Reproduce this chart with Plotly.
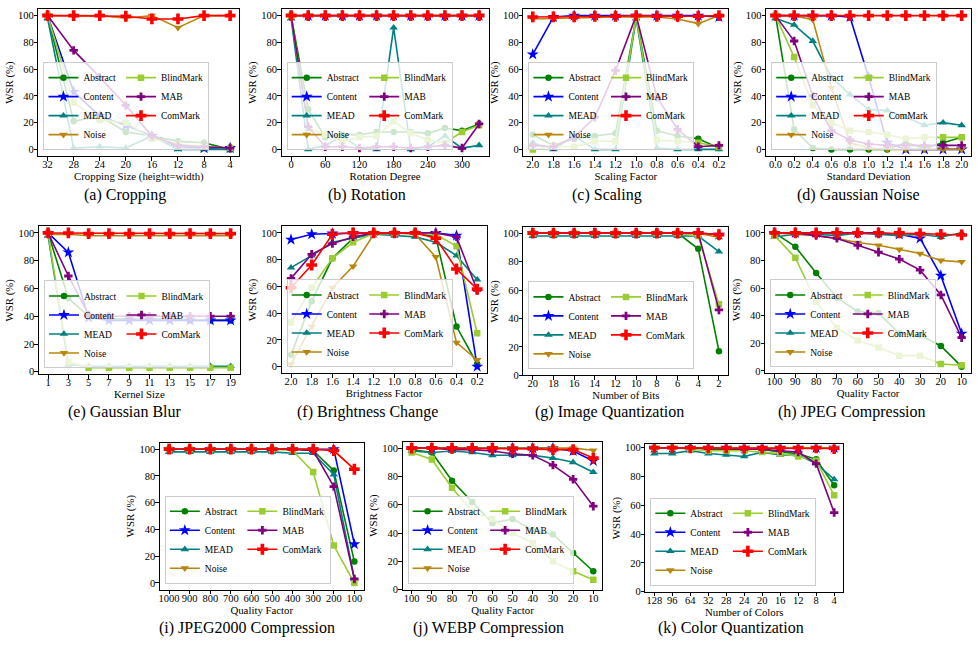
import plotly.graph_objects as go

W, H = 977, 650
FONT = "Liberation Serif"

# ---------------- data ----------------
series_names = ["Abstract", "Content", "MEAD", "Noise", "BlindMark", "MAB", "ComMark"]

crop_x = ["32", "28", "24", "20", "16", "12", "8", "4"]
crop_abstract = [100, 21, 25, 13, 10, 6, 5, 0]
crop_content = [100, 43, 25, 18, 10, 2, 1, 1]
crop_mead = [98, 1, 2, 1, 10, 0, 0, 0]
crop_noise = [100, 100, 100, 98, 100, 91, 100, 100]
crop_blind = [100, 35, 22, 20, 8, 4, 2, 1]
crop_mab = [100, 74, 54, 33, 10, 3, 2, 1]
crop_commark = [100, 100, 100, 99.5, 97.5, 97.5, 100, 100]

rot_x = [0, 30, 60, 90, 120, 150, 180, 210, 240, 270, 300, 330]
rot_abstract = [100, 30, 9, 11, 11, 13, 13, 13, 12, 16, 14, 19]
rot_content = [100, 100, 100, 100, 100, 100, 100, 100, 100, 100, 100, 100]
rot_mead = [98, 0, 3, 10, 1, 0, 91, 0, 2, 10, 1, 3]
rot_noise = [100, 100, 100, 100, 100, 100, 100, 100, 100, 100, 100, 100]
rot_blind = [100, 16, 11, 6, 9, 10, 21, 12, 7, 5, 13, 18]
rot_mab = [100, 17, 2, 2, 1, 2, 2, 1, 2, 3, 1, 19]
rot_commark = [100, 100, 100, 100, 100, 100, 100, 100, 100, 100, 100, 100]

scale_x = ["2.0", "1.8", "1.6", "1.4", "1.2", "1.0", "0.8", "0.6", "0.4", "0.2"]
scale_abstract = [11, 3, 8, 10, 12, 99, 14, 10, 8, 1]
scale_content = [71, 99, 100, 100, 100, 100, 100, 100, 100, 99]
scale_mead = [5, 0, 10, 0, 0, 98, 1, 0, 0, 0]
scale_noise = [97.5, 98, 98, 99, 99, 99, 99, 97.5, 94, 100]
scale_blind = [0, 2, 2, 6, 6, 99, 7, 6, 5, 2]
scale_mab = [3, 2, 9, 24, 59, 100, 39, 15, 2, 3]
scale_commark = [99, 99, 99, 99.5, 99.5, 100, 99.5, 99.5, 99.5, 100]

gn_x = ["0.0", "0.2", "0.4", "0.6", "0.8", "1.0", "1.2", "1.4", "1.6", "1.8", "2.0"]
gn_abstract = [100, 15, 1, 0, 0, 0, 0, 5, 1, 5, 9]
gn_content = [100, 100, 100, 100, 99, 54, 5, 0, 0, 0, 0]
gn_mead = [98, 93, 81, 54, 41, 30, 29, 24, 18, 20, 18]
gn_noise = [100, 100, 97, 46, 5, 1, 0, 0, 0, 0, 0]
gn_blind = [100, 69, 33, 20, 14, 13, 11, 8, 9, 9, 9]
gn_mab = [100, 81, 40, 14, 7, 4, 3, 3, 3, 3, 3]
gn_commark = [100, 100, 100, 100, 100, 100, 100, 100, 100, 100, 100]

blur_x = ["1", "3", "5", "7", "9", "11", "13", "15", "17", "19"]
blur_abstract = [100, 53, 40, 38, 38, 38, 38, 37, 37, 37]
blur_content = [100, 86, 39, 37, 37, 37, 37, 37, 37, 37]
blur_mead = [98, 5, 4, 4, 4, 4, 4, 4, 4, 4]
blur_noise = [99, 99, 98, 98, 98, 98, 98, 98, 98, 98]
blur_blind = [100, 7, 3, 3, 3, 3, 3, 3, 3, 3]
blur_mab = [100, 69, 41, 40, 40, 40, 40, 40, 40, 40]
blur_commark = [100, 100, 99.5, 99.5, 99.5, 99.5, 99.5, 99.5, 99.5, 99.5]

br_x = ["2.0", "1.8", "1.6", "1.4", "1.2", "1.0", "0.8", "0.6", "0.4", "0.2"]
br_abstract = [9, 49, 81, 96, 100, 100, 100, 97, 30, 2]
br_content = [95, 99, 99.5, 100, 100, 100, 100, 100, 98, 0]
br_mead = [74, 83, 93, 96, 99, 98, 97, 93, 83, 65]
br_noise = [2, 30, 59, 75, 99, 100, 99, 82, 18, 5]
br_blind = [33, 59, 81, 93, 99.5, 100, 100, 99, 90, 25]
br_mab = [66, 84, 92, 97, 100, 100, 100, 100, 97, 57]
br_commark = [59, 76, 99, 100, 100, 100, 100, 96, 73, 58]

iq_x = ["20", "18", "16", "14", "12", "10", "8", "6", "4", "2"]
iq_abstract = [100, 100, 100, 100, 100, 100, 100, 100, 89, 17]
iq_content = [100, 100, 100, 100, 100, 100, 100, 100, 100, 99]
iq_mead = [98, 98, 98, 98, 98, 98, 98, 98, 98, 87]
iq_noise = [100, 100, 100, 100, 100, 100, 100, 100, 100, 97]
iq_blind = [100, 100, 100, 100, 100, 100, 100, 100, 98, 50]
iq_mab = [100, 100, 100, 100, 100, 100, 100, 100, 100, 46]
iq_commark = [100, 100, 100, 100, 100, 100, 100, 100, 100, 99]

jpeg_x = ["100", "90", "80", "70", "60", "50", "40", "30", "20", "10"]
jpeg_abstract = [100, 90, 71, 53, 43, 42, 27, 26, 18, 3]
jpeg_content = [100, 100, 100, 100, 100, 100, 99, 96, 69, 27]
jpeg_mead = [97, 99, 99, 98, 100, 99, 98, 99, 97, 100]
jpeg_noise = [100, 99, 98, 96, 93, 91, 88, 85, 80, 79]
jpeg_blind = [98, 82, 50, 31, 22, 17, 11, 11, 5, 4]
jpeg_mab = [100, 100, 98, 96, 91, 86, 81, 73, 55, 24]
jpeg_commark = [100, 100, 100, 100, 100, 100, 100, 99.5, 99, 98.5]

j2k_x = ["1000", "900", "800", "700", "600", "500", "400", "300", "200", "100"]
j2k_abstract = [100, 100, 100, 100, 100, 100, 100, 99, 84, 16]
j2k_content = [100, 100, 100, 100, 100, 100, 100, 100, 100, 29]
j2k_mead = [98, 98, 98, 98, 98, 98, 97, 97, 81, 3]
j2k_noise = [100, 100, 100, 100, 100, 100, 100, 100, 99, 85]
j2k_blind = [100, 100, 100, 100, 100, 100, 99, 83, 28, 0]
j2k_mab = [100, 100, 100, 100, 100, 100, 100, 99, 72, 3]
j2k_commark = [100, 100, 100, 100, 100, 100, 100, 100, 99, 85]

webp_x = ["100", "90", "80", "70", "60", "50", "40", "30", "20", "10"]
webp_abstract = [99, 97, 77, 62, 47, 50, 42, 39, 26, 13]
webp_content = [100, 100, 100, 100, 100, 100, 100, 100, 98, 91]
webp_mead = [98, 97, 98, 97, 95, 95, 95, 93, 90, 83]
webp_noise = [100, 100, 100, 100, 100, 100, 100, 100, 100, 98.5]
webp_blind = [97, 92, 72, 55, 50, 40, 33, 20, 13, 7]
webp_mab = [100, 100, 99, 99, 98, 96, 95, 88, 78, 59]
webp_commark = [100, 100, 100, 100, 100, 99.5, 99.5, 99, 99, 93]

cq_x = ["128", "96", "64", "32", "28", "24", "20", "16", "12", "8", "4"]
cq_abstract = [100, 100, 100, 99, 99, 99, 99, 97, 96, 92, 74]
cq_content = [100, 100, 100, 100, 100, 100, 100, 100, 100, 100, 100]
cq_mead = [96, 96, 98, 96, 95, 94, 97, 95, 95, 89, 78]
cq_noise = [100, 100, 100, 100, 100, 100, 100, 100, 100, 100, 100]
cq_blind = [100, 100, 99, 98, 98, 98, 97, 96, 94, 91, 67]
cq_mab = [100, 100, 100, 99.5, 99.5, 99, 99, 98, 97, 89, 55]
cq_commark = [100, 100, 100, 100, 100, 100, 100, 100, 100, 100, 99.5]

captions = ["(a) Cropping", "(b) Rotation", "(c) Scaling", "(d) Gaussian Noise",
            "(e) Gaussian Blur", "(f) Brightness Change", "(g) Image Quantization",
            "(h) JPEG Compression", "(i) JPEG2000 Compression", "(j) WEBP Compression",
            "(k) Color Quantization"]
xtitles = ["Cropping Size (height=width)", "Rotation Degree", "Scaling Factor",
           "Standard Deviation", "Kernel Size", "Brightness Factor", "Number of Bits",
           "Quality Factor", "Quality Factor", "Quality Factor", "Number of Colors"]

panels = [
    (crop_x, [crop_abstract, crop_content, crop_mead, crop_noise, crop_blind, crop_mab, crop_commark]),
    (rot_x, [rot_abstract, rot_content, rot_mead, rot_noise, rot_blind, rot_mab, rot_commark]),
    (scale_x, [scale_abstract, scale_content, scale_mead, scale_noise, scale_blind, scale_mab, scale_commark]),
    (gn_x, [gn_abstract, gn_content, gn_mead, gn_noise, gn_blind, gn_mab, gn_commark]),
    (blur_x, [blur_abstract, blur_content, blur_mead, blur_noise, blur_blind, blur_mab, blur_commark]),
    (br_x, [br_abstract, br_content, br_mead, br_noise, br_blind, br_mab, br_commark]),
    (iq_x, [iq_abstract, iq_content, iq_mead, iq_noise, iq_blind, iq_mab, iq_commark]),
    (jpeg_x, [jpeg_abstract, jpeg_content, jpeg_mead, jpeg_noise, jpeg_blind, jpeg_mab, jpeg_commark]),
    (j2k_x, [j2k_abstract, j2k_content, j2k_mead, j2k_noise, j2k_blind, j2k_mab, j2k_commark]),
    (webp_x, [webp_abstract, webp_content, webp_mead, webp_noise, webp_blind, webp_mab, webp_commark]),
    (cq_x, [cq_abstract, cq_content, cq_mead, cq_noise, cq_blind, cq_mab, cq_commark]),
]

# ---------------- styles / layout ----------------
colors = {"Abstract": "#008000", "Content": "#0000ff", "MEAD": "#008080", "Noise": "#b8860b",
          "BlindMark": "#9acd32", "MAB": "#800080", "ComMark": "#ff0000"}
symbols = {"Abstract": "circle", "Content": "star", "MEAD": "triangle-up", "Noise": "triangle-down",
           "BlindMark": "square", "MAB": "cross", "ComMark": "cross"}
msizes = {"Abstract": 6.5, "Content": 9, "MEAD": 7.5, "Noise": 7.5,
          "BlindMark": 6.5, "MAB": 7, "ComMark": 9}
col_group = {"Abstract": "a", "Content": "a", "MEAD": "a", "Noise": "a",
             "BlindMark": "b", "MAB": "b", "ComMark": "b"}

# plot boxes in pixels: left, right, top, bottom
boxes = [
    (37.5, 238.5, 7, 156), (281, 488, 7, 156), (523, 728, 7, 156), (766, 971, 7, 156),
    (38, 239, 227, 377), (281, 486, 227, 376), (523, 728, 228, 378), (765, 971, 227, 376),
    (159, 363, 446, 595), (402, 602, 445, 595), (645, 843, 448, 597),
]
yranges = [[-5, 105], [-5, 105], [-5, 105], [-5, 105], [-1.85, 104.85], [-5, 105],
           [0, 104.2], [-1.85, 104.85], [-5, 105], [0, 104.7], [0, 102.3]]
cap_x = [124, 366, 607, 858, 124, 367, 609, 852, 246, 488, 731]
cap_y = [195, 195, 195, 195, 415, 415, 415, 415, 634, 634, 634]

fig = go.Figure()
layout = dict(width=W, height=H, margin=dict(l=0, r=0, t=0, b=0),
              paper_bgcolor="white", plot_bgcolor="white",
              font=dict(family=FONT, size=10, color="black"), showlegend=True)
annotations = []

for i, ((xcats, ys), (l, r, t, b)) in enumerate(zip(panels, boxes)):
    k = "" if i == 0 else str(i + 1)
    n = len(xcats)
    numeric = isinstance(xcats[0], (int, float))
    if numeric:
        xs = xcats
        span = xcats[-1] - xcats[0]
        xr = [xcats[0] - 0.05 * span, xcats[-1] + 0.05 * span]
        tv = [v for v in xcats if v % 60 == 0]
        tt = [str(v) for v in tv]
    else:
        xs = list(range(n))
        xr = [-0.05 * (n - 1), (n - 1) * 1.05]
        tv = xs
        tt = xcats
    lg = "legend" + k
    for name, yv in zip(series_names, ys):
        fig.add_trace(go.Scatter(
            x=xs, y=yv, name=name, mode="lines+markers",
            line=dict(color=colors[name], width=1.6),
            marker=dict(symbol=symbols[name], size=msizes[name], color=colors[name],
                        line=dict(width=0)),
            xaxis="x" + k, yaxis="y" + k, legend=lg,
            legendgroup=f"p{i}{col_group[name]}",
        ))
    axcommon = dict(showline=True, linecolor="black", linewidth=1, mirror=True,
                    ticks="outside", ticklen=3.5, tickwidth=1, tickcolor="black",
                    showgrid=False, zeroline=False,
                    tickfont=dict(family=FONT, size=10.5, color="black"))
    layout["xaxis" + k] = dict(axcommon, domain=[l / W, r / W], anchor="y" + k,
                               range=xr, tickmode="array", tickvals=tv, ticktext=tt,
                               ticklabelstandoff=-5,
                               title=dict(text=xtitles[i], font=dict(family=FONT, size=10.8),
                                          standoff=0))
    layout["yaxis" + k] = dict(axcommon, domain=[1 - b / H, 1 - t / H], anchor="x" + k,
                               range=yranges[i], tickmode="array",
                               tickvals=[0, 20, 40, 60, 80, 100],
                               ticklabelstandoff=-2,
                               title=dict(text="WSR (%)", font=dict(family=FONT, size=10.8),
                                          standoff=2))
    layout[lg] = dict(x=(l + 5) / W, y=1 - (b - 6) / H, xanchor="left", yanchor="bottom",
                      orientation="h", traceorder="grouped", tracegroupgap=0,
                      bgcolor="rgba(255,255,255,0.8)", bordercolor="#cccccc", borderwidth=1,
                      font=dict(family=FONT, size=9.5, color="black"), itemwidth=30)
    annotations.append(dict(text=captions[i], x=cap_x[i] / W, y=1 - cap_y[i] / H,
                            xref="paper", yref="paper", showarrow=False,
                            xanchor="center", yanchor="middle",
                            font=dict(family=FONT, size=16, color="black")))

layout["annotations"] = annotations
fig.update_layout(**layout)
fig.write_html("out.html")
